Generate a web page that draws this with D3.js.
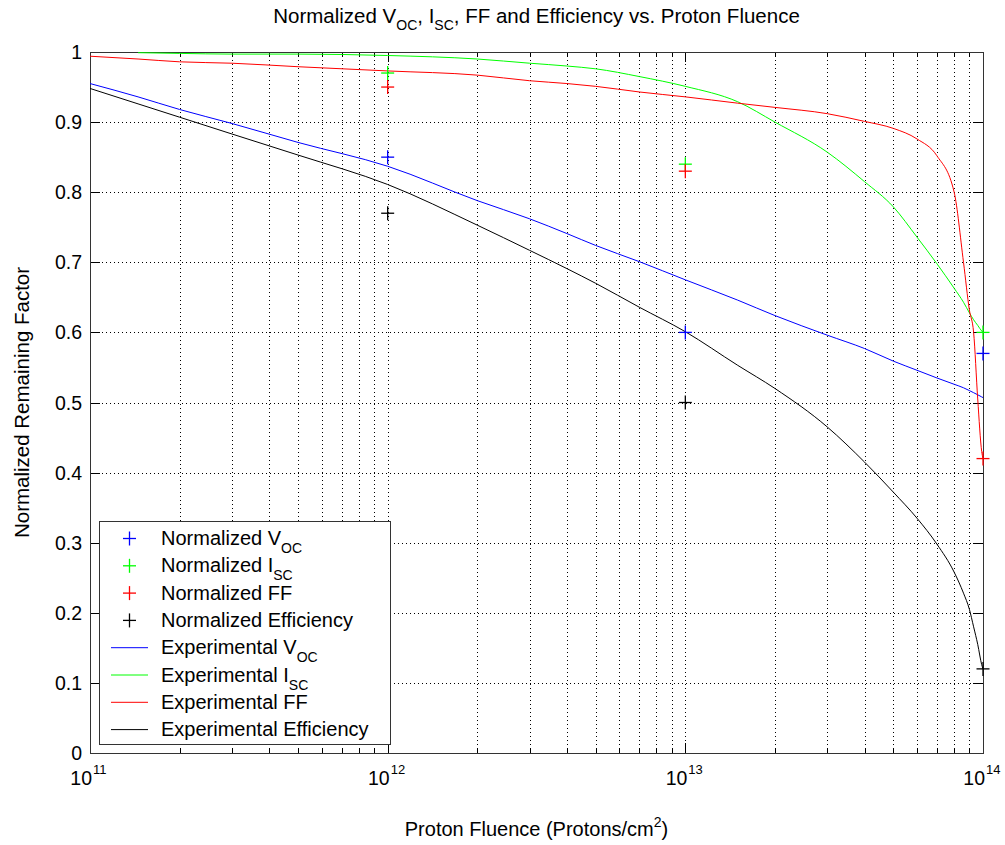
<!DOCTYPE html>
<html>
<head>
<meta charset="utf-8">
<script src="https://cdn.jsdelivr.net/npm/d3@7"></script>
<style>
  body { margin: 0; background: #fff; }
  svg text { font-family: "Liberation Sans", Arial, sans-serif; fill: #000; }
</style>
</head>
<body>
<div id="chart"></div>
<script>
// fluence samples used for the experimental curves
var curveFluence = [1e11, 1.45e11, 2e11, 3e11, 5e11, 1e12, 2e12, 3e12, 4e12, 5e12, 7e12,
    1e13, 1.5e13, 2e13, 3e13, 4e13, 5e13, 6e13, 7e13, 8e13, 8.6e13, 9e13, 9.3e13, 9.6e13, 9.9e13, 1e14];
var expVoc = [0.955, 0.936, 0.918, 0.898, 0.871, 0.837, 0.788, 0.762, 0.741, 0.724, 0.701,
    0.675, 0.646, 0.624, 0.596, 0.577, 0.559, 0.546, 0.535, 0.526, 0.521, 0.517, 0.514, 0.511, 0.508, 0.507];
var expIsc = [null, 0.999, 0.998, 0.997, 0.997, 0.995, 0.990, 0.984, 0.980, 0.976, 0.965,
    0.951, 0.929, 0.900, 0.857, 0.815, 0.779, 0.736, 0.698, 0.663, 0.643, 0.628, 0.618, 0.610, 0.602, 0.600];
var expFF = [0.994, 0.990, 0.986, 0.984, 0.979, 0.973, 0.967, 0.959, 0.955, 0.951, 0.943,
    0.936, 0.927, 0.921, 0.912, 0.901, 0.891, 0.876, 0.852, 0.800, 0.700, 0.632, 0.600, 0.505, 0.430, 0.420];
var expEff = [0.948, 0.926, 0.907, 0.883, 0.853, 0.811, 0.753, 0.717, 0.691, 0.670, 0.636,
    0.601, 0.553, 0.520, 0.465, 0.415, 0.372, 0.335, 0.298, 0.258, 0.228, 0.205, 0.180, 0.155, 0.126, 0.120];

// measured (normalized) points
var pointFluence = [1e12, 1e13, 1e14];
var normVoc = [0.85, 0.60, 0.57];
var normIsc = [0.97, 0.84, 0.60];
var normFF = [0.95, 0.83, 0.42];
var normEff = [0.77, 0.50, 0.12];

var yTickValues = [0, 0.1, 0.2, 0.3, 0.4, 0.5, 0.6, 0.7, 0.8, 0.9, 1];
var yTickLabels = ["0", "0.1", "0.2", "0.3", "0.4", "0.5", "0.6", "0.7", "0.8", "0.9", "1"];
var xTickExponents = ["11", "12", "13", "14"];

var width = 1005, height = 845;
var plotL = 90, plotR = 983, plotT = 52, plotB = 753;

var svg = d3.select("#chart").append("svg")
    .attr("width", width)
    .attr("height", height);

var x = d3.scaleLog().domain([1e11, 1e14]).range([plotL, plotR]);
var y = d3.scaleLinear().domain([0, 1]).range([plotB, plotT]);

var majorX = [1e11, 1e12, 1e13, 1e14];
var minorX = x.ticks().filter(function(d){
    return majorX.indexOf(d) < 0;
});

// grid, dotted
var grid = svg.append("g").attr("shape-rendering", "crispEdges");
majorX.concat(minorX).forEach(function(d){
    grid.append("line")
        .attr("x1", Math.round(x(d)) + 0.5).attr("x2", Math.round(x(d)) + 0.5)
        .attr("y1", plotT).attr("y2", plotB)
        .style("stroke", "#000").style("stroke-width", 1)
        .style("stroke-dasharray", "1,3");
});
yTickValues.forEach(function(d){
    grid.append("line")
        .attr("x1", plotL).attr("x2", plotR)
        .attr("y1", Math.round(y(d)) + 0.5).attr("y2", Math.round(y(d)) + 0.5)
        .style("stroke", "#000").style("stroke-width", 1)
        .style("stroke-dasharray", "1,3");
});

// ticks on all four sides, pointing in
var ticks = svg.append("g").attr("shape-rendering", "crispEdges")
    .style("stroke", "#000").style("stroke-width", 1);
function xTick(d, len){
    var px = Math.round(x(d)) + 0.5;
    ticks.append("line").attr("x1", px).attr("x2", px).attr("y1", plotB).attr("y2", plotB - len);
    ticks.append("line").attr("x1", px).attr("x2", px).attr("y1", plotT).attr("y2", plotT + len);
}
majorX.forEach(function(d){ xTick(d, 10); });
minorX.forEach(function(d){ xTick(d, 5); });
yTickValues.forEach(function(d){
    var py = Math.round(y(d)) + 0.5;
    ticks.append("line").attr("x1", plotL).attr("x2", plotL + 10).attr("y1", py).attr("y2", py);
    ticks.append("line").attr("x1", plotR).attr("x2", plotR - 10).attr("y1", py).attr("y2", py);
});

// axes box
svg.append("rect")
    .attr("x", plotL + 0.5).attr("y", plotT + 0.5)
    .attr("width", plotR - plotL).attr("height", plotB - plotT)
    .attr("shape-rendering", "crispEdges")
    .style("fill", "none").style("stroke", "#333").style("stroke-width", 1);

// y tick labels
svg.append("g").selectAll("text")
    .data(yTickValues)
    .enter().append("text")
    .attr("x", plotL - 8)
    .attr("y", function(d){ return y(d) + 7; })
    .attr("text-anchor", "end")
    .style("font-size", "19.5px")
    .text(function(d, i){ return yTickLabels[i]; });

// x tick labels: 10 with superscript exponent
majorX.forEach(function(d, i){
    var g = svg.append("g");
    g.append("text")
        .attr("x", x(d) + 2).attr("y", plotB + 32)
        .attr("text-anchor", "end")
        .style("font-size", "19.5px")
        .text("10");
    g.append("text")
        .attr("x", x(d) + 3).attr("y", plotB + 21)
        .style("font-size", "13px")
        .text(xTickExponents[i]);
});

// experimental curves
var series = [
    {vals: expVoc, color: "#0000ff"},
    {vals: expIsc, color: "#00ff00"},
    {vals: expFF, color: "#ff0000"},
    {vals: expEff, color: "#000000"}
];
var line = d3.line()
    .defined(function(d){ return d[1] !== null; })
    .x(function(d){ return x(d[0]); })
    .y(function(d){ return y(d[1]); })
    .curve(d3.curveMonotoneX);
series.forEach(function(s){
    svg.append("path")
        .datum(curveFluence.map(function(f, i){ return [f, s.vals[i]]; }))
        .attr("d", line)
        .style("fill", "none")
        .style("stroke", s.color)
        .style("stroke-width", 1);
});

// measured points as '+'
var markers = [
    {vals: normVoc, color: "#0000ff"},
    {vals: normIsc, color: "#00ff00"},
    {vals: normFF, color: "#ff0000"},
    {vals: normEff, color: "#000000"}
];
function plus(g, cx, cy, color){
    g.append("line").attr("x1", cx - 6.5).attr("x2", cx + 6.5).attr("y1", cy).attr("y2", cy)
        .style("stroke", color).style("stroke-width", 1.3);
    g.append("line").attr("x1", cx).attr("x2", cx).attr("y1", cy - 7).attr("y2", cy + 7)
        .style("stroke", color).style("stroke-width", 1.3);
}
var pts = svg.append("g");
markers.forEach(function(m){
    pointFluence.forEach(function(f, i){
        plus(pts, x(f), y(m.vals[i]), m.color);
    });
});

// legend
var legendItems = [
    {main: "Normalized V", sub: "OC", color: "#0000ff", kind: "plus"},
    {main: "Normalized I", sub: "SC", color: "#00ff00", kind: "plus"},
    {main: "Normalized FF", sub: "", color: "#ff0000", kind: "plus"},
    {main: "Normalized Efficiency", sub: "", color: "#000000", kind: "plus"},
    {main: "Experimental V", sub: "OC", color: "#0000ff", kind: "line"},
    {main: "Experimental I", sub: "SC", color: "#00ff00", kind: "line"},
    {main: "Experimental FF", sub: "", color: "#ff0000", kind: "line"},
    {main: "Experimental Efficiency", sub: "", color: "#000000", kind: "line"}
];
var legend = svg.append("g");
legend.append("rect")
    .attr("x", 99.5).attr("y", 521.5).attr("width", 291).attr("height", 223)
    .attr("shape-rendering", "crispEdges")
    .style("fill", "#fff").style("stroke", "#333").style("stroke-width", 1);
legendItems.forEach(function(it, i){
    var cy = 538.5 + i * 27.3;
    if(it.kind === "plus"){
        plus(legend, 129.5, cy, it.color);
    } else {
        legend.append("line").attr("x1", 111).attr("x2", 148).attr("y1", cy).attr("y2", cy)
            .style("stroke", it.color).style("stroke-width", 1);
    }
    var t = legend.append("text").attr("x", 161).attr("y", cy + 6.5).style("font-size", "20px");
    t.append("tspan").text(it.main);
    if(it.sub){
        t.append("tspan").attr("dy", 8).style("font-size", "14px").text(it.sub);
    }
});

// title
var title = svg.append("text")
    .attr("x", (plotL + plotR) / 2).attr("y", 23)
    .attr("text-anchor", "middle")
    .style("font-size", "20.5px");
title.append("tspan").text("Normalized V");
title.append("tspan").attr("dy", 7).style("font-size", "14px").text("OC");
title.append("tspan").attr("dy", -7).text(", I");
title.append("tspan").attr("dy", 7).style("font-size", "14px").text("SC");
title.append("tspan").attr("dy", -7).text(", FF and Efficiency vs. Proton Fluence");

// x label
var xl = svg.append("text")
    .attr("x", (plotL + plotR) / 2).attr("y", 836)
    .attr("text-anchor", "middle")
    .style("font-size", "20px");
xl.append("tspan").text("Proton Fluence (Protons/cm");
xl.append("tspan").attr("dy", -9).style("font-size", "14px").text("2");
xl.append("tspan").attr("dy", 9).text(")");

// y label
svg.append("text")
    .attr("transform", "translate(29," + (plotT + plotB) / 2 + ") rotate(-90)")
    .attr("text-anchor", "middle")
    .style("font-size", "20.5px")
    .text("Normalized Remaining Factor");
</script>
</body>
</html>
